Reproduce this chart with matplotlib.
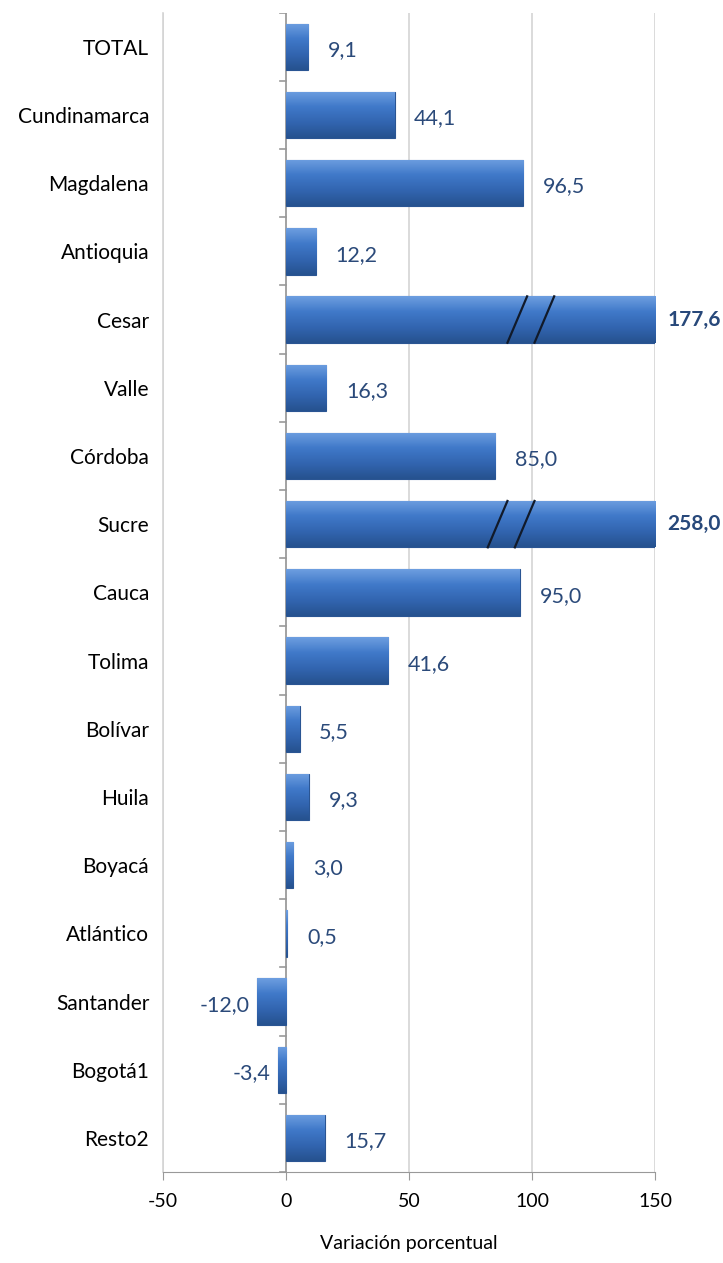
import numpy as np
import matplotlib
matplotlib.use("Agg")
import matplotlib.pyplot as plt
from matplotlib.colors import LinearSegmentedColormap

plt.rcParams['font.family'] = ['Lato', 'DejaVu Sans']

# Data (top to bottom)
regions = ['TOTAL', 'Cundinamarca', 'Magdalena', 'Antioquia', 'Cesar', 'Valle',
           'Córdoba', 'Sucre', 'Cauca', 'Tolima', 'Bolívar', 'Huila', 'Boyacá',
           'Atlántico', 'Santander', 'Bogotá1', 'Resto2']
variation = [9.1, 44.1, 96.5, 12.2, 177.6, 16.3, 85.0, 258.0, 95.0, 41.6,
             5.5, 9.3, 3.0, 0.5, -12.0, -3.4, 15.7]
x_ticks = [-50, 0, 50, 100, 150]

xmin, xmax = -50, 150
label_col = '#2b4a7a'
grad = LinearSegmentedColormap.from_list('bar', ['#6d9ee0', '#4079c9', '#3265b0', '#26528f'])

fig = plt.figure(figsize=(7.23, 12.63), dpi=100)
ax = fig.add_axes([0.2255, 0.072, 0.6805, 0.918])

n = len(regions)
y = np.arange(n)
shown = np.clip(variation, xmin, xmax)

bars = ax.barh(y, shown, height=0.68, color='#3a6fbf', edgecolor='#2a5593',
               linewidth=0.8, zorder=3)

# vertical gradient inside each bar
g = np.linspace(0, 1, 64).reshape(-1, 1)
for b in bars:
    x0, y0 = b.get_x(), b.get_y()
    w, h = b.get_width(), b.get_height()
    im = ax.imshow(g, cmap=grad, aspect='auto', zorder=3.5,
                   extent=(min(x0, x0 + w), max(x0, x0 + w), y0 + h, y0))
    im.set_clip_path(b)

# value labels
for yi, v, s in zip(y, variation, shown):
    txt = f"{v:.1f}".replace('.', ',')
    if v > xmax:
        ax.text(xmax + 5, yi, txt, ha='left', va='center', fontsize=15,
                fontweight='bold', color='#27487a', clip_on=False)
        # break marks on clipped bars
        xb = 82 if yi == 7 else 90
        for dx in (0, 11):
            ax.plot([xb + dx, xb + dx + 8], [yi + 0.34, yi - 0.34],
                    color='#111a2a', lw=1.6, zorder=5)
    elif v >= 0:
        ax.text(s + 8, yi + 0.05, txt, ha='left', va='center', fontsize=15.5,
                color=label_col)
    else:
        ax.text(s - 3, yi + 0.05, txt, ha='right', va='center', fontsize=15.5,
                color=label_col)

ax.set_xlim(xmin, xmax)
ax.set_ylim(n - 0.5, -0.5)
ax.set_xticks(x_ticks)
ax.set_xticklabels([str(t) for t in x_ticks], fontsize=14)
ax.set_yticks(y)
ax.set_yticklabels(regions, fontsize=15)
ax.tick_params(axis='y', length=0, pad=10)
ax.tick_params(axis='x', length=6, color='#999999', pad=9)
ax.grid(axis='x', color='#d4d4d4', lw=1.2, zorder=0)
ax.set_axisbelow(True)

for side in ['top', 'right']:
    ax.spines[side].set_visible(False)
ax.spines['left'].set_color('#d4d4d4')
ax.spines['left'].set_linewidth(1.2)
ax.spines['bottom'].set_color('#999999')

# category axis at zero with boundary ticks
ax.axvline(0, color='#999999', lw=1.2, zorder=2)
for yb in np.arange(-0.5, n, 1):
    ax.plot([-2.5, 0], [yb, yb], color='#999999', lw=1.2, zorder=2)

ax.set_xlabel('Variación porcentual', fontsize=14, labelpad=18)

fig.savefig('out.png', dpi=100)
